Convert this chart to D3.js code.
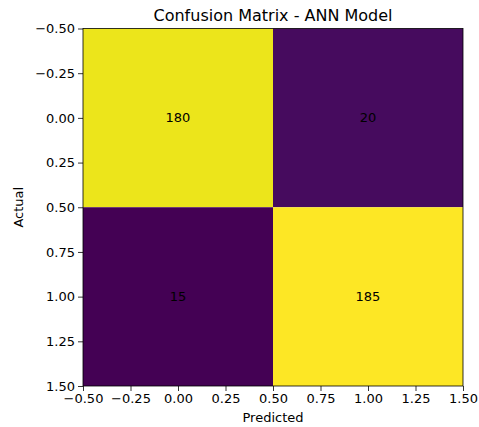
<!DOCTYPE html>
<html>
<head>
<meta charset="utf-8">
<script src="https://cdn.jsdelivr.net/npm/d3@7"></script>
<style>
  body { margin: 0; background: #fff; }
  text { font-family: "DejaVu Sans", sans-serif; fill: #000; }
</style>
</head>
<body>
<div id="chart"></div>
<script>
// confusion matrix data
var actualLabels = [0, 1];
var predictedLabels = [0, 1];
var counts = [
  [180, 20],
  [15, 185]
];
var xTicks = [-0.5, -0.25, 0, 0.25, 0.5, 0.75, 1, 1.25, 1.5];
var yTicks = [-0.5, -0.25, 0, 0.25, 0.5, 0.75, 1, 1.25, 1.5];

var W = 479, H = 427;
var margin = { top: 28.5, right: 16, bottom: 41, left: 83 };
var width = W - margin.left - margin.right;
var height = H - margin.top - margin.bottom;

var svg = d3.select("#chart").append("svg")
  .attr("width", W)
  .attr("height", H);

var g = svg.append("g")
  .attr("transform", "translate(" + margin.left + "," + margin.top + ")");

var xScale = d3.scaleLinear().domain([-0.5, 1.5]).range([0, width]);
var yScale = d3.scaleLinear().domain([-0.5, 1.5]).range([0, height]);

var flat = [];
counts.forEach(function (row, i) {
  row.forEach(function (v, j) {
    flat.push({ r: actualLabels[i], c: predictedLabels[j], v: v });
  });
});

var color = d3.scaleSequential(d3.interpolateViridis)
  .domain(d3.extent(flat, function (d) { return d.v; }));

g.selectAll("rect.cell").data(flat).enter()
  .append("rect")
  .attr("class", "cell")
  .attr("x", function (d) { return xScale(d.c - 0.5); })
  .attr("y", function (d) { return yScale(d.r - 0.5); })
  .attr("width", function (d) { return xScale(d.c + 0.5) - xScale(d.c - 0.5); })
  .attr("height", function (d) { return yScale(d.r + 0.5) - yScale(d.r - 0.5); })
  .style("fill", function (d) { return color(d.v); });

g.selectAll("text.val").data(flat).enter()
  .append("text")
  .attr("class", "val")
  .attr("x", function (d) { return xScale(d.c); })
  .attr("y", function (d) { return yScale(d.r); })
  .attr("dy", "0.35em")
  .attr("text-anchor", "middle")
  .style("font-size", "13px")
  .text(function (d) { return d.v; });

var fmt = d3.format(".2f");
var tickFmt = function (d) { return fmt(d).replace("-", "\u2212"); };

var xAxis = d3.axisBottom(xScale).tickValues(xTicks).tickFormat(tickFmt)
  .tickSizeOuter(0).tickSize(5).tickPadding(3);
var yAxis = d3.axisLeft(yScale).tickValues(yTicks).tickFormat(tickFmt)
  .tickSizeOuter(0).tickSize(5).tickPadding(3);

var gx = g.append("g")
  .attr("transform", "translate(0," + height + ")")
  .call(xAxis);
var gy = g.append("g").call(yAxis);

[gx, gy].forEach(function (a) {
  a.select(".domain").remove();
  a.selectAll("text").style("font-size", "13px").style("font-family", "DejaVu Sans, sans-serif").attr("fill", "#000");
  a.selectAll("line").attr("stroke", "#000").attr("stroke-width", 0.8);
});

// frame
g.append("rect")
  .attr("width", width)
  .attr("height", height)
  .attr("fill", "none")
  .attr("stroke", "#000")
  .attr("stroke-width", 0.8);

svg.append("text")
  .attr("x", margin.left + width / 2)
  .attr("y", 21)
  .attr("text-anchor", "middle")
  .style("font-size", "16px")
  .text("Confusion Matrix - ANN Model");

svg.append("text")
  .attr("x", margin.left + width / 2)
  .attr("y", 422)
  .attr("text-anchor", "middle")
  .style("font-size", "13px")
  .text("Predicted");

svg.append("text")
  .attr("transform", "translate(23," + (margin.top + height / 2) + ") rotate(-90)")
  .attr("text-anchor", "middle")
  .style("font-size", "13px")
  .text("Actual");
</script>
</body>
</html>
